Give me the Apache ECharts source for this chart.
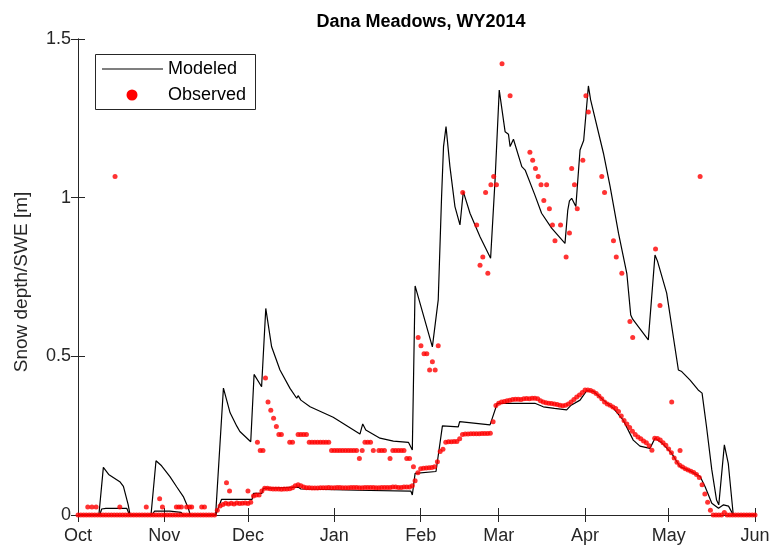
<!DOCTYPE html>
<html><head><meta charset="utf-8">
<script src="https://cdn.jsdelivr.net/npm/echarts@6/dist/echarts.min.js"></script>
<style>html,body{margin:0;padding:0;background:#fff}#c{width:775px;height:557px}</style>
</head><body><div id="c"></div>
<script>
// x = days since 1 Oct 2013 (water year 2014)
const monthTicks = [0,31,61,92,123,151,182,212,243];
const monthLabels = ['Oct','Nov','Dec','Jan','Feb','Mar','Apr','May','Jun'];
const yTicks = [0,0.5,1,1.5];

const modeledDepth = [[0,0],[7.5,0],[9.1,0.150],[11,0.128],[15,0.105],[16.3,0.09],[18,0.033],[18.7,0],
[26.2,0],[28,0.171],[30,0.155],[33,0.121],[35.4,0.089],[37.8,0.058],[39.6,0.021],[40.3,0],
[49.4,0],[52.2,0.400],[54.6,0.322],[57,0.28],[58.1,0.263],[62,0.231],[63.2,0.443],[65.9,0.404],[67.4,0.651],
[69.5,0.530],[72.5,0.457],[76.1,0.399],[78.5,0.368],[79,0.376],[80,0.362],[83.3,0.341],[91.6,0.308],
[101.2,0.255],[102.2,0.287],[103.3,0.268],[108.4,0.242],[113.2,0.233],[118.6,0.229],[120,0.205],[121,0.722],
[127.2,0.530],[129.3,0.678],[130.5,1.003],[131.2,1.161],[132.1,1.224],[133.5,1.098],[135.3,0.972],[137.1,0.914],
[138.3,1.019],[140.7,0.951],[144.3,0.877],[148.1,0.809],[149.7,1.056],[151.2,1.339],[153.3,1.208],[154.5,1.2],
[155.1,1.161],[156.3,1.184],[159.3,1.098],[160.5,1.087],[164,1.008],[166.4,0.951],[170,0.904],[174.8,0.856],
[175.8,0.961],[176.4,0.99],[177.2,0.998],[178.7,0.972],[180.2,1.150],[181.5,1.18],[183.2,1.352],[184,1.308],
[188.6,1.14],[191,1.035],[194,0.888],[197,0.761],[198.4,0.63],[199.1,0.617],[204.7,0.552],[207.1,0.819],
[208,0.80],[211.3,0.699],[215.5,0.457],[216.7,0.452],[219.7,0.425],[222.6,0.394],[224,0.384],[225.6,0.278],
[227.5,0.142],[229.2,0.047],[230,0.032],[232,0.221],[233.4,0.163],[235.2,0],[243,0]];

const modeledSwe = [[0,0],[7.8,0],[8.5,0.019],[10,0.021],[17.5,0.021],[18.5,0],[26.5,0],[27.5,0.012],[33,0.012],
[33.5,0.009],[37,0.008],[38,0],[49.4,0],[51.5,0.049],[62.5,0.049],[63,0.068],[66,0.068],[66.5,0.084],[79,0.088],
[80,0.082],[100,0.078],[119.5,0.075],[120,0.063],[121,0.131],[128.5,0.137],[130.8,0.281],[136.5,0.278],[137,0.294],
[147.9,0.284],[150.5,0.352],[151,0.357],[164,0.352],[167,0.341],[171,0.336],[175.4,0.331],[177,0.346],[180.2,0.362],
[182.6,0.392],[185,0.39],[188.6,0.362],[192.2,0.336],[195.7,0.299],[199.3,0.236],[201.7,0.217],[205.3,0.210],
[207.1,0.242],[209.5,0.228],[213.1,0.194],[216.1,0.152],[219.7,0.139],[223.3,0.121],[225.1,0.089],[227.5,0.037],
[229.9,0.021],[231.7,0.032],[233.5,0.028],[235.2,0],[243,0]];

// observed SWE, one value per day starting 1 Oct
const obsSwe = [
0,0,0,0,0,0,0,0,0,0, 0,0,0,0,0,0,0,0,0,0, 0,0,0,0,0,0,0,0,0,0, 0,0,0,0,0,0,0,0,0,0, 0,0,0,0,0,0,0,0,0,0,
0.015,0.028,0.033,0.037,0.035,0.037,0.035,0.038,0.036,0.037,0.038,0.036,0.040,0.060,0.063,0.063,0.076,0.084,0.084,0.083,
0.082,0.082,0.082,0.081,0.082,0.082,0.083,0.086,0.092,0.095,0.092,0.088,0.086,0.086,0.085,
0.085,0.085,0.086,0.086,0.086,0.087,0.086,0.086,0.087,0.087,0.086,0.086,0.086,0.087,0.087,0.087,0.086,0.086,0.087,0.087,
0.087,0.087,0.086,0.086,0.087,0.087,0.087,0.087,0.088,0.088,0.087,0.087,0.088,0.088,0.088,
0.092,0.108,0.133,0.146,0.147,0.148,0.149,0.150,0.152,0.168,0.200,0.207,0.229,0.231,0.231,0.232,0.232,0.240,0.254,0.255,
0.255,0.256,0.256,0.256,0.256,0.257,0.257,0.257,0.258,0.294,0.345,0.352,0.356,0.358,0.360,0.362,0.364,0.365,0.365,0.364,
0.366,0.367,0.366,0.368,0.368,0.366,0.360,0.356,0.354,0.352,0.351,0.350,0.348,0.346,0.344,0.346,0.350,0.356,0.364,0.372,
0.378,0.386,0.394,0.394,0.392,0.388,0.383,0.375,0.366,0.356,0.350,0.346,0.340,0.336,0.326,0.312,0.298,0.287,0.276,0.264,
0.254,0.246,0.240,0.233,0.228,0.218,0.204,0.242,0.241,0.236,0.228,0.220,0.208,0.196,0.180,0.166,0.157,0.151,0.146,0.142,
0.138,0.134,0.128,0.118,0.095,0.066,0.040,0.015,
0,0,0,0,0.008,0,0,0,0,0,0,0,0,0,0,0];

// observed snow depth [day, m]
const obsDepth = [[3.5,0.025],[5,0.025],[6.5,0.025],[13.3,1.067],[15,0.025],[24.5,0.025],[29.3,0.051],[30.3,0.025],
[35.3,0.025],[36.2,0.025],[37.1,0.025],[39,0.025],[40,0.025],[40.8,0.025],[44.4,0.025],[45.4,0.025],
[53.3,0.102],[54.4,0.076],[61,0.076],[64.4,0.229],[65.4,0.203],[66.4,0.203],[67.3,0.432],[68.2,0.356],[69.2,0.330],
[70.2,0.305],[71.2,0.279],[72.1,0.254],[73,0.254],[76,0.229],[77,0.229],[79,0.254],[80,0.254],[81,0.254],[82,0.254],
[83,0.229],[84,0.229],[85,0.229],[86,0.229],[87,0.229],[88,0.229],[89,0.229],[90,0.229],
[91,0.203],[92,0.203],[93,0.203],[94,0.203],[95,0.203],[96,0.203],[97,0.203],[98,0.203],[99,0.203],[100,0.203],
[101,0.178],[102,0.203],[103,0.229],[104,0.229],[105,0.229],[106,0.203],[108,0.203],[109,0.203],[110,0.203],
[112,0.178],[113,0.203],[114,0.203],[115,0.203],[116,0.203],[117,0.203],[118,0.178],[119,0.178],[120.4,0.152],
[122.1,0.559],[123.1,0.533],[124.2,0.508],[125.2,0.508],[126.2,0.457],[127.2,0.483],[128.2,0.457],[129.3,0.533],
[138.1,1.016],[143.1,0.914],[144.3,0.787],[145.3,0.813],[146.3,1.016],[147.1,0.762],[148.2,1.041],[149.2,1.067],
[150.2,1.041],[152.2,1.422],[155.1,1.321],[162.2,1.143],[163.2,1.118],[164.2,1.092],[165.2,1.067],[166.2,1.041],
[167.2,0.991],[168.2,1.041],[169.2,0.965],[170.3,0.914],[171.2,0.864],[173.2,0.914],[175.2,0.813],[176.4,0.889],
[177.2,1.092],[178.2,1.041],[179.2,0.965],[181.2,1.118],[182.3,1.321],[183.2,1.270],[188,1.067],[189,1.016],
[192.2,0.864],[193.2,0.813],[195.2,0.762],[198.1,0.610],[199.1,0.559],[207.3,0.838],[208.9,0.660],[213.1,0.356],
[216.1,0.203],[223.3,1.067]];

const axisColor = '#262626';
const font = '"Liberation Sans", Arial, Helvetica, sans-serif';
const chart = echarts.init(document.getElementById('c'), null, {renderer: 'canvas'});
const baseX = {
  type: 'value', min: 0, max: 243,
  axisLine: {show: true, lineStyle: {color: axisColor, width: 1}},
  splitLine: {show: false},
};
const baseY = {
  type: 'value', min: 0, max: 1.5, interval: 0.5,
  axisLine: {show: true, lineStyle: {color: axisColor, width: 1}},
  splitLine: {show: false},
};
chart.setOption({
  animation: false,
  backgroundColor: '#fff',
  title: {text: 'Dana Meadows, WY2014', left: 416, top: 8, textAlign: 'center',
    textStyle: {fontFamily: font, fontSize: 18, fontWeight: 'bold', color: '#000'}},
  grid: {left: 78, right: 20, top: 39, bottom: 42, containLabel: false},
  xAxis: [
    Object.assign({}, baseX, {position: 'bottom',
      axisTick: {show: true, inside: true, length: 7, customValues: monthTicks, lineStyle: {color: axisColor}},
      axisLabel: {show: true, customValues: monthTicks, margin: 12, fontSize: 18, fontFamily: font, color: axisColor,
        formatter: v => monthLabels[monthTicks.indexOf(Math.round(v))] || ''}}),
    Object.assign({}, baseX, {position: 'top',
      axisTick: {show: true, inside: true, length: 7, customValues: monthTicks, lineStyle: {color: axisColor}},
      axisLabel: {show: false}})
  ],
  yAxis: [
    Object.assign({}, baseY, {position: 'left',
      axisTick: {show: true, inside: true, length: 7, lineStyle: {color: axisColor}},
      axisLabel: {show: true, margin: 7, fontSize: 18, fontFamily: font, color: axisColor,
        formatter: v => String(v)}}),
    Object.assign({}, baseY, {position: 'right',
      axisTick: {show: true, inside: true, length: 7, lineStyle: {color: axisColor}},
      axisLabel: {show: false}})
  ],
  graphic: [
    {type: 'text', x: 22, y: 282, rotation: Math.PI / 2,
      style: {text: 'Snow depth/SWE [m]', fill: axisColor, font: '19px ' + font, textAlign: 'center', textVerticalAlign: 'middle'}},
    {type: 'rect', z: 100, shape: {x: 95.5, y: 54.5, width: 160, height: 55},
      style: {fill: '#fff', stroke: axisColor, lineWidth: 1}},
    {type: 'line', z: 101, shape: {x1: 102, y1: 69, x2: 163, y2: 69}, style: {stroke: '#000', lineWidth: 1.2}},
    {type: 'text', z: 101, x: 168, y: 69, style: {text: 'Modeled', fill: '#000', font: '18px ' + font, textVerticalAlign: 'middle'}},
    {type: 'circle', z: 101, shape: {cx: 132, cy: 95, r: 5.5}, style: {fill: '#ff0000'}},
    {type: 'text', z: 101, x: 168, y: 95, style: {text: 'Observed', fill: '#000', font: '18px ' + font, textVerticalAlign: 'middle'}}
  ],
  series: [
    {name: 'Modeled depth', type: 'line', data: modeledDepth, showSymbol: false, symbol: 'none',
      lineStyle: {color: '#000', width: 1.2}, z: 2},
    {name: 'Modeled SWE', type: 'line', data: modeledSwe, showSymbol: false, symbol: 'none',
      lineStyle: {color: '#000', width: 1.2}, z: 2},
    {name: 'Observed SWE', type: 'scatter', data: obsSwe.map((v, i) => [i, v]), symbolSize: 5,
      itemStyle: {color: '#ff0000'}, z: 3},
    {name: 'Observed depth', type: 'scatter', data: obsDepth, symbolSize: 5,
      itemStyle: {color: '#ff0000'}, z: 3}
  ]
});
</script></body></html>
